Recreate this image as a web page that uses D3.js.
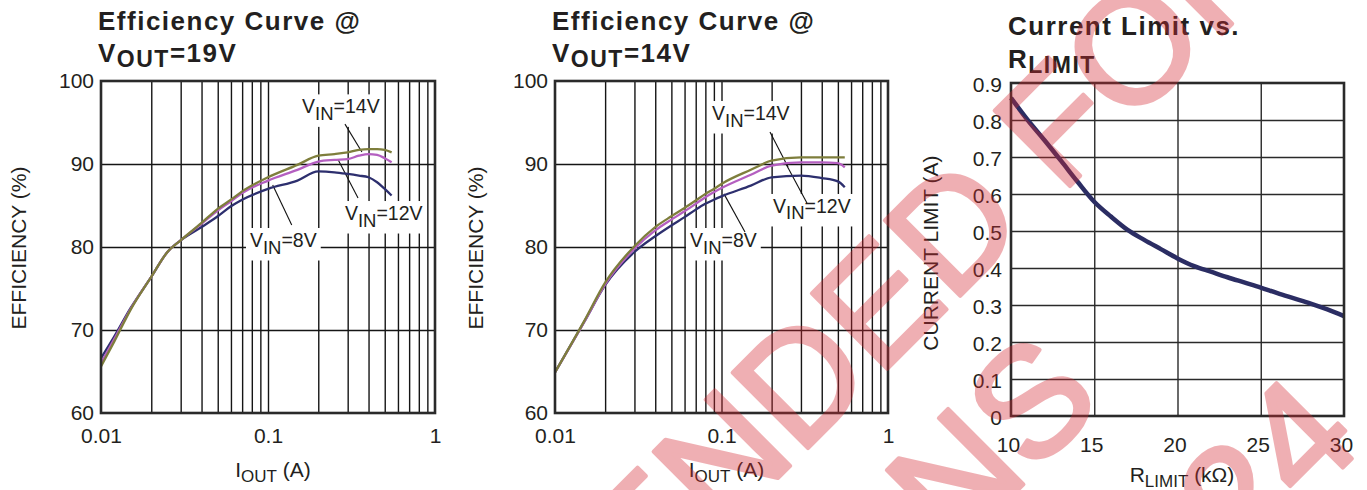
<!DOCTYPE html>
<html><head><meta charset="utf-8">
<script src="https://cdn.jsdelivr.net/npm/d3@7"></script>
<style>body{margin:0;background:#fff}svg{display:block}</style>
</head><body>
<svg id="c" width="1367" height="490"></svg>
<script>
// ---------- DATA ----------
const iout19 = [0.01,0.012,0.015,0.02,0.025,0.03,0.04,0.05,0.06,0.07,0.1,0.15,0.2,0.25,0.3,0.35,0.4,0.45,0.5,0.55];
const eff19_vin8  = [66.6,69.2,72.6,76.4,79.4,80.8,82.4,83.7,84.9,85.7,87.0,88.0,89.1,89.0,88.8,88.6,88.4,87.8,87.0,86.2];
const eff19_vin12 = [66.0,68.9,72.5,76.4,79.4,80.8,82.8,84.4,85.5,86.5,88.0,89.3,90.3,90.5,90.6,91.0,91.2,91.1,90.7,90.2];
const eff19_vin14 = [65.6,68.6,72.4,76.4,79.4,80.8,82.9,84.6,85.7,86.7,88.4,89.9,91.0,91.2,91.4,91.7,91.8,91.8,91.7,91.4];

const iout14 = [0.01,0.015,0.02,0.03,0.04,0.05,0.06,0.07,0.08,0.09,0.1,0.15,0.2,0.3,0.4,0.5,0.55];
const eff14_vin8  = [64.9,71.0,75.4,79.4,81.3,82.6,83.6,84.5,85.2,85.7,86.1,87.4,88.4,88.6,88.3,87.9,87.2];
const eff14_vin12 = [64.9,71.0,75.5,79.8,82.0,83.3,84.3,85.2,86.0,86.6,87.1,88.7,89.8,90.2,90.2,90.1,89.6];
const eff14_vin14 = [64.9,71.1,75.7,80.1,82.4,83.7,84.7,85.6,86.4,87.0,87.6,89.3,90.4,90.8,90.8,90.8,90.8];

const rlimit = [10,11,12,13,14,15,16,17,18,19,20,21,22,23,24,25,26,27,28,29,30];
const ilimit = [0.86,0.80,0.746,0.69,0.633,0.579,0.539,0.503,0.476,0.451,0.426,0.405,0.390,0.375,0.361,0.347,0.332,0.318,0.304,0.288,0.270];

const effYTicks = [60,70,80,90,100];
const effXTicks = [0.01,0.1,1];
const effXTickLabels = ["0.01","0.1","1"];
const effXGrid = [0.02,0.03,0.04,0.05,0.06,0.07,0.08,0.09,0.1,0.2,0.3,0.4,0.5,0.6,0.7,0.8,0.9];
const limXTicks = [10,15,20,25,30];
const limYTicks = [0,0.1,0.2,0.3,0.4,0.5,0.6,0.7,0.8,0.9];
const seriesNames = ["8V","12V","14V"];

// ---------- STYLE ----------
const FONT = "'Liberation Sans', Arial, Helvetica, sans-serif";
const INK = "#231f20";
const COL = {"8V":"#2d2f6e","12V":"#b45fc0","14V":"#7e7e3c"};
const svg = d3.select("#c");

function richText(g, x, y, parts, o) {
  const t = g.append("text").attr("x", x).attr("y", y)
    .attr("font-family", FONT).attr("font-size", o.size)
    .attr("font-weight", o.weight || "normal").attr("fill", INK)
    .attr("text-anchor", o.anchor || "start");
  if (o.ls) t.attr("letter-spacing", o.ls);
  if (o.rotate) t.attr("transform", `rotate(${o.rotate},${x},${y})`);
  let shifted = false;
  parts.forEach(p => {
    const ts = t.append("tspan").text(p.t);
    if (p.sub) { ts.attr("font-size", o.subSize).attr("dy", o.subShift); shifted = true; }
    else if (shifted) { ts.attr("dy", -o.subShift); shifted = false; }
  });
  return t;
}

function effPanel(cfg) {
  const x = d3.scaleLog().domain([0.01, 1]).range([cfg.x0, cfg.x1]);
  const y = d3.scaleLinear().domain([60, 100]).range([cfg.y1, cfg.y0]);
  const W = cfg.x1 - cfg.x0, H = cfg.y1 - cfg.y0;
  const g = svg.append("g");

  g.append("g").attr("transform", `translate(0,${cfg.y1})`)
    .call(d3.axisBottom(x).tickValues(effXGrid).tickSize(-H).tickFormat(""))
    .call(s => { s.select(".domain").remove(); s.selectAll("line").attr("stroke", "#151515").attr("stroke-width", 1.4); });
  g.append("g").attr("transform", `translate(${cfg.x0},0)`)
    .call(d3.axisLeft(y).tickValues([70, 80, 90]).tickSize(-W).tickFormat(""))
    .call(s => { s.select(".domain").remove(); s.selectAll("line").attr("stroke", "#151515").attr("stroke-width", 1.4); });

  const annG = g.append("g");
  cfg.ann.forEach(a => {
    const t = richText(annG, x(a.lx), y(a.ly), [{t:"V"},{t:"IN",sub:true},{t:"="+a.name}],
      {size:19.5, subSize:18.5, subShift:6.5});
    const bb = t.node().getBBox();
    annG.insert("rect", "text").attr("x", bb.x - 4).attr("y", bb.y - 1)
      .attr("width", bb.width + 8).attr("height", bb.height + 4).attr("fill", "#fff");
    a.leaders.forEach(L => {
      annG.append("line").attr("x1", x(L[0])).attr("y1", y(L[1])).attr("x2", x(L[2])).attr("y2", y(L[3]))
        .attr("stroke", "#111").attr("stroke-width", 1.1);
    });
  });

  const line = d3.line().x(d => x(d[0])).y(d => y(d[1])).curve(d3.curveMonotoneX);
  cfg.series.forEach((vals, i) => {
    g.append("path").datum(cfg.iout.map((v, j) => [v, vals[j]]))
      .attr("d", line).attr("fill", "none").attr("stroke", COL[seriesNames[i]])
      .attr("stroke-width", 2.3).attr("stroke-linejoin", "round");
  });

  g.append("rect").attr("x", cfg.x0).attr("y", cfg.y0).attr("width", W).attr("height", H)
    .attr("fill", "none").attr("stroke", "#2a2a2a").attr("stroke-width", 2.6);

  g.append("g").attr("transform", `translate(${cfg.x0},0)`)
    .call(d3.axisLeft(y).tickValues(effYTicks).tickSize(0).tickPadding(7).tickFormat(d3.format("d")))
    .call(s => { s.select(".domain").remove(); s.selectAll("text").attr("font-family", FONT).attr("font-size", 21).attr("fill", INK); });
  g.append("g").attr("transform", `translate(0,${cfg.y1})`)
    .call(d3.axisBottom(x).tickValues(effXTicks).tickSize(0).tickPadding(15).tickFormat((d, i) => effXTickLabels[i]))
    .call(s => { s.select(".domain").remove(); s.selectAll("text").attr("font-family", FONT).attr("font-size", 21).attr("fill", INK); });

  richText(g, cfg.x0 - 3, 30, [{t:"Efficiency Curve @"}], {size:26, weight:"bold", ls:1.5});
  richText(g, cfg.x0 - 3, 62, [{t:"V"},{t:"OUT",sub:true},{t:"="+cfg.vout}], {size:26, weight:"bold", ls:1.5, subSize:23, subShift:5});
  richText(g, cfg.x0 + W / 2 + 5, 477, [{t:"I"},{t:"OUT",sub:true},{t:" (A)"}], {size:21, subSize:17, subShift:5, anchor:"middle"});
  richText(g, cfg.ytx, (cfg.y0 + cfg.y1) / 2 + 1, [{t:"EFFICIENCY (%)"}], {size:21, anchor:"middle", rotate:-90});
}

effPanel({
  x0:101, x1:435, y0:81, y1:413, vout:"19V", ytx:26,
  iout: iout19, series:[eff19_vin8, eff19_vin12, eff19_vin14],
  ann:[
    {name:"14V", lx:0.160, ly:96.1, leaders:[[0.289,94.8,0.365,91.45]]},
    {name:"12V", lx:0.289, ly:83.25, leaders:[[0.263,90.5,0.346,85.9]]},
    {name:"8V",  lx:0.078, ly:80.0, leaders:[[0.1067,87.47,0.1387,82.65]]}
  ]
});
effPanel({
  x0:555, x1:888, y0:81, y1:413, vout:"14V", ytx:483,
  iout: iout14, series:[eff14_vin8, eff14_vin12, eff14_vin14],
  ann:[
    {name:"14V", lx:0.0877, ly:95.3, leaders:[[0.1955,93.86,0.251,89.64]]},
    {name:"12V", lx:0.204, ly:84.1, leaders:[[0.244,90.0,0.326,85.3]]},
    {name:"8V",  lx:0.0647, ly:80.0, leaders:[[0.1035,86.4,0.1384,81.8]]}
  ]
});

// ---------- Current limit panel ----------
(function () {
  const x0 = 1011, x1 = 1344, y0 = 83, y1 = 416;
  const x = d3.scaleLinear().domain([10, 30]).range([x0, x1]);
  const y = d3.scaleLinear().domain([0, 0.9]).range([y1, y0]);
  const g = svg.append("g");
  g.append("g").attr("transform", `translate(0,${y1})`)
    .call(d3.axisBottom(x).tickValues([15, 20, 25]).tickSize(-(y1 - y0)).tickFormat(""))
    .call(s => { s.select(".domain").remove(); s.selectAll("line").attr("stroke", "#2a2a2a").attr("stroke-width", 1.4); });
  g.append("g").attr("transform", `translate(${x0},0)`)
    .call(d3.axisLeft(y).tickValues(limYTicks.slice(1, 9)).tickSize(-(x1 - x0)).tickFormat(""))
    .call(s => { s.select(".domain").remove(); s.selectAll("line").attr("stroke", "#2a2a2a").attr("stroke-width", 1.4); });
  const line = d3.line().x((d, i) => x(rlimit[i])).y(d => y(d)).curve(d3.curveMonotoneX);
  g.append("path").datum(ilimit).attr("d", line).attr("fill", "none")
    .attr("stroke", "#2b2d63").attr("stroke-width", 4.5);
  g.append("rect").attr("x", x0).attr("y", y0).attr("width", x1 - x0).attr("height", y1 - y0)
    .attr("fill", "none").attr("stroke", "#2a2a2a").attr("stroke-width", 2.6);
  g.append("g").attr("transform", `translate(${x0},2)`)
    .call(d3.axisLeft(y).tickValues(limYTicks).tickSize(0).tickPadding(9).tickFormat(d => d === 0 ? "0" : d3.format(".1f")(d)))
    .call(s => { s.select(".domain").remove(); s.selectAll("text").attr("font-family", FONT).attr("font-size", 21).attr("fill", INK); });
  g.append("g").attr("transform", `translate(-3,${y1})`)
    .call(d3.axisBottom(x).tickValues(limXTicks).tickSize(0).tickPadding(21).tickFormat(d3.format("d")))
    .call(s => { s.select(".domain").remove(); s.selectAll("text").attr("font-family", FONT).attr("font-size", 21).attr("fill", INK); });
  richText(g, 1008, 35, [{t:"Current Limit vs."}], {size:26, weight:"bold", ls:1.5});
  richText(g, 1008, 68, [{t:"R"},{t:"LIMIT",sub:true}], {size:26, weight:"bold", ls:1.5, subSize:23, subShift:5});
  richText(g, 1182, 482, [{t:"R"},{t:"LIMIT",sub:true},{t:" (k\u03A9)"}], {size:21, subSize:17, subShift:5, anchor:"middle"});
  richText(g, 938, 253, [{t:"CURRENT LIMIT (A)"}], {size:21, anchor:"middle", rotate:-90});
})();

// ---------- Watermark ----------
const wmLines = ["NOT RECOMMENDED FOR", "NEW DESIGNS", "2024"];
(function () {
  const g = svg.append("g").attr("opacity", 0.37)
    .attr("transform", "translate(800,456) rotate(-45)");
  const fs = 155;
  const offs = [0, 178, 392];
  const anch = [["middle", -297], ["middle", -297], ["end", 408]];
  wmLines.forEach((s, i) => {
    g.append("text").attr("x", anch[i][1]).attr("y", offs[i]).attr("text-anchor", anch[i][0])
      .attr("font-family", FONT).attr("font-size", fs)
      .attr("fill", "#d52a33").attr("stroke", "#d52a33").attr("stroke-width", 4)
      .attr("stroke-linejoin", "round").text(s);
  });
})();
</script>
</body></html>
